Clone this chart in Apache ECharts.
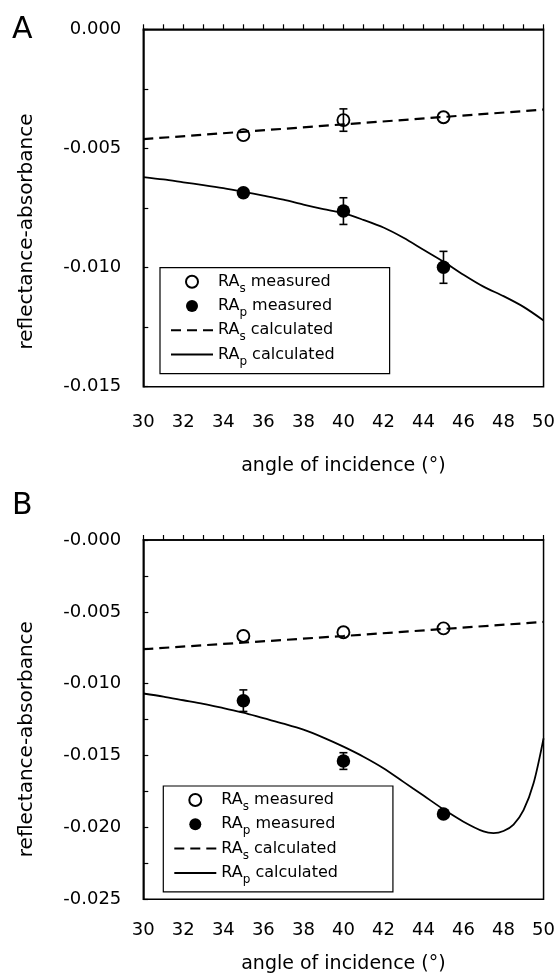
<!DOCTYPE html>
<html>
<head>
<meta charset="utf-8">
<script src="https://cdn.jsdelivr.net/npm/echarts@6/dist/echarts.min.js"></script>
<style>
  html, body { margin: 0; padding: 0; background: #fff; }
  #chart { width: 558px; height: 975px; }
</style>
</head>
<body>
<div id="chart"></div>
<script>
// angles of the measured points
const measAngles = [35, 40, 45]

// panel A measured values and error half-widths
const rasMeasA = [-0.00444, -0.00381, -0.00369]
const rasErrA = [0, 0.00047, 0]
const rapMeasA = [-0.00686, -0.00763, -0.00999]
const rapErrA = [0, 0.00056, 0.00067]

// panel B measured values and error half-widths
const rasMeasB = [-0.00668, -0.00642, -0.00615]
const rasErrB = [0, 0, 0]
const rapMeasB = [-0.01118, -0.01538, -0.01906]
const rapErrB = [0.00075, 0.00058, 0]

// calculated curves
const rasCalcAnglesA = [30, 40, 50]
const rasCalcA = [-0.00461, -0.00399, -0.00337]
const rapCalcAnglesA = [30, 31, 32, 33, 34, 35, 36, 37, 38, 39, 40, 41, 42, 43, 44, 45, 46, 47, 48, 49, 50]
const rapCalcA = [-0.00620, -0.00630, -0.00642, -0.00654, -0.00667, -0.00682, -0.00698, -0.00715, -0.00736, -0.00755,
  -0.00772, -0.00800, -0.00832, -0.00875, -0.00925, -0.00975, -0.01030, -0.01080, -0.01120, -0.01165, -0.01222]

const rasCalcAnglesB = [30, 40, 50]
const rasCalcB = [-0.00760, -0.00668, -0.00570]
const rapCalcAnglesB = [30, 31, 32, 33, 34, 35, 36, 37, 38, 39, 40, 41, 42, 43, 44, 45, 46, 47, 47.5, 48, 48.5, 49, 49.5, 50]
const rapCalcB = [-0.01068, -0.01090, -0.01115, -0.01140, -0.01170, -0.01201, -0.01240, -0.01278, -0.01320, -0.01375,
  -0.01438, -0.01508, -0.01588, -0.01683, -0.01778, -0.01874, -0.01960, -0.02028, -0.02040, -0.02025, -0.01980, -0.01880, -0.01693, -0.01380]

// tick labels
const yLabelsA = ['0.000', '-0.005', '-0.010', '-0.015']
const yLabelsB = ['-0.000', '-0.005', '-0.010', '-0.015', '-0.020', '-0.025']

// legend entries: [base, subscript, rest]
const legendNames = ['RAs measured', 'RAp measured', 'RAs calculated', 'RAp calculated']
const legendParts = {
  'RAs measured': ['RA', 's', ' measured'],
  'RAp measured': ['RA', 'p', ' measured'],
  'RAs calculated': ['RA', 's', ' calculated'],
  'RAp calculated': ['RA', 'p', ' calculated']
}

const font = 'DejaVu Sans'
const zip = (xs, ys) => xs.map((x, i) => [x, ys[i]])
const withErr = (ys, es) => measAngles.map((x, i) => [x, ys[i], es[i]])

const chart = echarts.init(document.getElementById('chart'), null, { renderer: 'canvas' })

const makeX = (gridIndex, labelMargin, nameGap) => ({
  type: 'value',
  gridIndex,
  min: 30,
  max: 50,
  interval: 2,
  name: 'angle of incidence (°)',
  nameLocation: 'middle',
  nameGap,
  nameTextStyle: { fontFamily: font, fontSize: 19, color: '#000' },
  axisLine: { lineStyle: { color: '#000', width: 1.5 } },
  axisTick: { inside: true, length: 5, lineStyle: { color: '#000', width: 1.2 } },
  minorTick: { show: true, splitNumber: 2, length: 5, lineStyle: { color: '#000', width: 1.2 } },
  splitLine: { show: false },
  axisLabel: { margin: labelMargin, fontFamily: font, fontSize: 18, color: '#000' }
})

const makeY = (gridIndex, min, labels, shift) => ({
  type: 'value',
  gridIndex,
  min,
  max: 0,
  interval: 0.005,
  name: 'reflectance-absorbance',
  nameLocation: 'middle',
  nameGap: 107,
  nameTextStyle: { fontFamily: font, fontSize: 20, color: '#000', padding: [0, shift, 0, 0] },
  axisLine: { lineStyle: { color: '#000', width: 1.5 } },
  axisTick: { inside: true, length: 5, lineStyle: { color: '#000', width: 1.2 } },
  minorTick: { show: true, splitNumber: 2, length: 5, lineStyle: { color: '#000', width: 1.2 } },
  splitLine: { show: false },
  axisLabel: {
    margin: 22, fontFamily: font, fontSize: 18, color: '#000',
    formatter: (v) => labels[Math.round(-v / 0.005)]
  }
})

const errorBars = (name, idx, data) => ({
  type: 'custom',
  name,
  xAxisIndex: idx,
  yAxisIndex: idx,
  z: 3,
  silent: true,
  data,
  renderItem: (params, api) => {
    const x = api.value(0), y = api.value(1), e = api.value(2)
    if (!e) return
    const top = api.coord([x, y + e])
    const bot = api.coord([x, y - e])
    const st = { stroke: '#000', lineWidth: 1.6 }
    return {
      type: 'group',
      children: [
        { type: 'line', shape: { x1: top[0], y1: top[1], x2: bot[0], y2: bot[1] }, style: st },
        { type: 'line', shape: { x1: top[0] - 4, y1: top[1], x2: top[0] + 4, y2: top[1] }, style: st },
        { type: 'line', shape: { x1: bot[0] - 4, y1: bot[1], x2: bot[0] + 4, y2: bot[1] }, style: st }
      ]
    }
  }
})

const panelSeries = (idx, rasM, rasE, rapM, rapE, rasCx, rasC, rapCx, rapC) => [
  {
    name: 'RAs calculated', type: 'line', xAxisIndex: idx, yAxisIndex: idx,
    data: zip(rasCx, rasC), symbol: 'none', z: 2,
    itemStyle: { color: '#000' },
    lineStyle: { color: '#000', width: 2.2, type: [10, 6] }
  },
  {
    name: 'RAp calculated', type: 'line', xAxisIndex: idx, yAxisIndex: idx,
    data: zip(rapCx, rapC), symbol: 'none', smooth: 0.3, z: 2,
    itemStyle: { color: '#000' },
    lineStyle: { color: '#000', width: 1.8 }
  },
  errorBars('errS' + idx, idx, withErr(rasM, rasE)),
  errorBars('errP' + idx, idx, withErr(rapM, rapE)),
  {
    name: 'RAs measured', type: 'scatter', xAxisIndex: idx, yAxisIndex: idx,
    data: zip(measAngles, rasM), symbol: 'circle', symbolSize: 12, z: 4,
    itemStyle: { color: 'rgba(255,255,255,0)', borderColor: '#000', borderWidth: 1.9, opacity: 1 }
  },
  {
    name: 'RAp measured', type: 'scatter', xAxisIndex: idx, yAxisIndex: idx,
    data: zip(measAngles, rapM), symbol: 'circle', symbolSize: 13.5, z: 4,
    itemStyle: { color: '#000', opacity: 1 }
  }
]

const makeLegend = (left, top) => ({
  data: legendNames.map(n => n.indexOf('calculated') > -1 ? { name: n, itemStyle: { opacity: 0 } } : n),
  orient: 'vertical',
  left,
  top,
  itemWidth: 42,
  itemHeight: 12,
  itemGap: 3.3,
  padding: [6, 55, 6, 10],
  borderColor: '#000',
  borderWidth: 1.2,
  backgroundColor: '#fff',
  selectedMode: false,
  formatter: (name) => {
    const p = legendParts[name]
    return '{a|' + p[0] + '}{b|' + p[1] + '}{a|' + p[2] + '}'
  },
  textStyle: {
    color: '#000',
    rich: {
      a: { fontFamily: font, fontSize: 16, color: '#000' },
      b: { fontFamily: font, fontSize: 12, color: '#000', padding: [14, 0, 0, 0] }
    }
  }
})

const option = {
  animation: false,
  backgroundColor: '#fff',
  grid: [
    { left: 143.3, top: 29.3, width: 401, height: 357.4, show: true, borderColor: '#000', borderWidth: 1.5, backgroundColor: 'transparent' },
    { left: 143.3, top: 540, width: 401, height: 359.3, show: true, borderColor: '#000', borderWidth: 1.5, backgroundColor: 'transparent' }
  ],
  xAxis: [makeX(0, 27, 70), makeX(1, 22, 55)],
  yAxis: [makeY(0, -0.015, yLabelsA, 47), makeY(1, -0.025, yLabelsB, 39)],
  legend: [makeLegend(160, 267.7), makeLegend(163.3, 786)],
  graphic: [
    { type: 'text', left: 12, top: 15, style: { text: 'A', fontFamily: font, fontSize: 30, fill: '#000' } },
    { type: 'text', left: 12, top: 491, style: { text: 'B', fontFamily: font, fontSize: 30, fill: '#000' } }
  ],
  series: [
    ...panelSeries(0, rasMeasA, rasErrA, rapMeasA, rapErrA, rasCalcAnglesA, rasCalcA, rapCalcAnglesA, rapCalcA),
    ...panelSeries(1, rasMeasB, rasErrB, rapMeasB, rapErrB, rasCalcAnglesB, rasCalcB, rapCalcAnglesB, rapCalcB)
  ]
}

chart.setOption(option)
</script>
</body>
</html>
